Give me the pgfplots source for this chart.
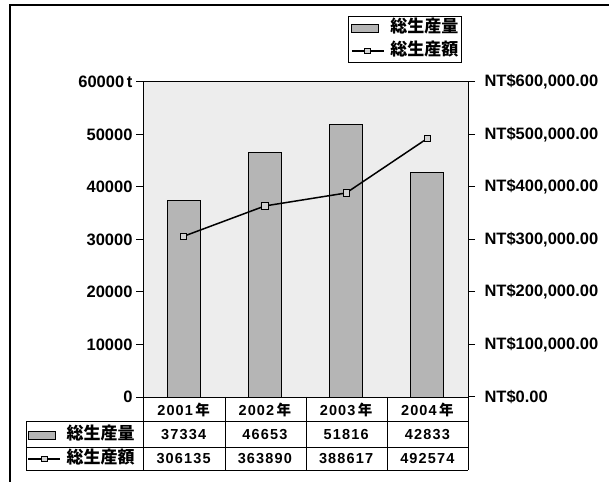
\documentclass[border=0pt]{standalone}
\usepackage{fontspec}
\setmainfont{Liberation Sans}
\newfontfamily\jp{Noto Sans CJK JP}
\newfontfamily\tabfont[LetterSpace=8]{Liberation Sans}
\usepackage{pgfplots}
\usepackage{pgfplotstable}
\pgfplotsset{compat=1.18}

% yearly production volume (t) and production value (NT$)
\pgfplotstableread{
x year vol val
0 2001 37334 306135
1 2002 46653 363890
2 2003 51816 388617
3 2004 42833 492574
}\prodtable

\pgfplotsset{
  barstyle/.style={fill=gray!58, draw=black, line width=1pt},
  linestyle/.style={black, line width=1.5pt, mark=square*, mark size=3.2pt,
    mark options={fill=gray!35, draw=black, line width=0.8pt, solid}},
  barkey/.style={legend image code/.code={\draw[fill=gray!58, draw=black, line width=0.8pt] (0pt,-4pt) rectangle (27pt,4pt);}},
  linekey/.style={legend image code/.code={\draw[black, line width=1.2pt] (0pt,0pt) -- (32pt,0pt);
      \draw[fill=gray!35, draw=black, line width=0.8pt] (13pt,-2.8pt) rectangle (19pt,2.8pt);}},
}
\tikzset{keyfont/.style={font=\jp\fontsize{17}{19}\selectfont\bfseries}}

\begin{document}
\begin{tikzpicture}[x=1pt,y=1pt]
\path[use as bounding box] (0,0) rectangle (609,481);
% outer frame
\draw[line width=1.2pt] (10,-5) -- (10,476) -- (615,476);

% volume: bars on the left axis
\begin{axis}[
  at={(143pt,84pt)}, anchor=south west,
  scale only axis, width=325pt, height=315pt,
  xmin=-0.5, xmax=3.5, ymin=0, ymax=60000,
  xtick=\empty,
  ytick={0,10000,...,60000},
  yticklabels={0,10000,20000,30000,40000,50000,60000\,t},
  scaled y ticks=false,
  ytick pos=left, tick align=outside, major tick length=7pt,
  yticklabel style={font=\fontsize{16.5}{18}\selectfont\bfseries},
  axis line style={line width=1pt}, tick style={line width=1pt, black},
  axis background/.style={fill=gray!14},
  ybar, bar width=33pt,
  legend style={at={(-0.356,-0.159)}, anchor=west, draw=none, fill=none,
    inner sep=0pt, row sep=9pt, column sep=6pt, keyfont,
    nodes={inner sep=0pt, text height=12pt, text depth=3pt}},
]
\addplot[barstyle, barkey] table[x=x, y=vol] {\prodtable};
\addlegendentry{総生産量}
\addlegendimage{linekey}
\addlegendentry{総生産額}
\end{axis}

% value: line on the right axis
\begin{axis}[
  at={(143pt,84pt)}, anchor=south west,
  scale only axis, width=325pt, height=315pt,
  xmin=-0.5, xmax=3.5, ymin=0, ymax=600000,
  hide x axis, ytick pos=right,
  ytick={0,100000,...,600000},
  yticklabels={NT\$0.00,{NT\$100,000.00},{NT\$200,000.00},{NT\$300,000.00},{NT\$400,000.00},{NT\$500,000.00},{NT\$600,000.00}},
  scaled y ticks=false,
  tick align=outside, major tick length=7pt,
  yticklabel style={font=\fontsize{16.5}{18}\selectfont\bfseries, xshift=6pt},
  axis line style={line width=1pt}, tick style={line width=1pt, black},
  legend style={at={(0.9815,1.2095)}, anchor=north east, draw=black, line width=1pt,
    fill=white, inner xsep=3pt, inner ysep=4pt, row sep=8pt, column sep=6pt, keyfont,
    nodes={inner sep=0pt, text height=12pt, text depth=3pt}},
]
\addlegendimage{barkey}
\addlegendentry{総生産量}
\addplot[linestyle, linekey] table[x=x, y=val] {\prodtable};
\addlegendentry{総生産額}
\end{axis}

% data table under the plot
\begin{scope}[line width=1pt]
\draw (143,84) -- (143,11);
\foreach \xx in {225,306,387,468} \draw (\xx,84) -- (\xx,11);
\draw (26,59) -- (468,59);
\draw (26,34) -- (468,34);
\draw (26,11) -- (468,11);
\draw (26,59) -- (26,11);
\end{scope}
\foreach \i in {0,...,3}{
  \pgfmathsetmacro{\cx}{143+81.25*(\i+0.5)}
  \pgfplotstablegetelem{\i}{year}\of\prodtable \let\yr\pgfplotsretval
  \node[font=\tabfont\fontsize{14.5}{16}\selectfont\bfseries] at (\cx,71) {\yr{\jp\,年}};
  \pgfplotstablegetelem{\i}{vol}\of\prodtable
  \node[font=\tabfont\fontsize{14.5}{16}\selectfont\bfseries] at (\cx,46.5) {\pgfplotsretval};
  \pgfplotstablegetelem{\i}{val}\of\prodtable
  \node[font=\tabfont\fontsize{14.5}{16}\selectfont\bfseries] at (\cx,22.5) {\pgfplotsretval};
}
\end{tikzpicture}
\end{document}
